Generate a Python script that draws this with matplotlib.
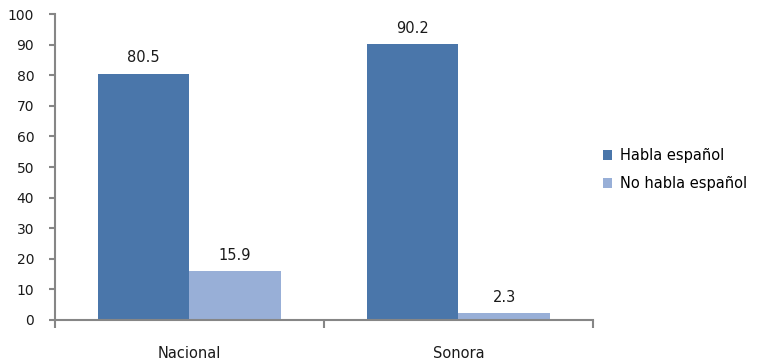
import matplotlib.pyplot as plt
import numpy as np

plt.rcParams['font.family'] = ['DejaVu Sans']

categories = ['Nacional', 'Sonora']
habla = [80.5, 90.2]
no_habla = [15.9, 2.3]
series_names = ['Habla español', 'No habla español']

dark = '#4A76AA'
light = '#98AFD7'
axis_gray = '#868686'

fig = plt.figure(figsize=(7.59, 3.61), dpi=100)
ax = fig.add_axes([0.0725, 0.1136, 0.7085, 0.8475])

centers = np.arange(len(categories)) + 0.5
w = 0.34
b1 = ax.bar(centers - w / 2, habla, w, color=dark, label=series_names[0])
b2 = ax.bar(centers + w / 2, no_habla, w, color=light, label=series_names[1])

for bars, vals in ((b1, habla), (b2, no_habla)):
    for rect, v in zip(bars, vals):
        ax.annotate(f'{v}', (rect.get_x() + rect.get_width() / 2, v),
                    xytext=(0, 6), textcoords='offset points',
                    ha='center', va='bottom', fontsize=10.5, color='#1a1a1a')

ax.set_xlim(0, len(categories))
ax.set_ylim(0, 100)
ax.set_yticks(range(0, 101, 10))
ax.set_xticks(range(0, len(categories) + 1))
ax.set_xticklabels([])
ax.set_xticks(centers, minor=True)
ax.set_xticklabels(categories, minor=True)

ax.tick_params(axis='y', length=4, width=1.5, color=axis_gray, pad=11,
               labelsize=10, labelcolor='#1a1a1a')
ax.tick_params(axis='x', which='major', length=6, width=1.5, color=axis_gray)
ax.tick_params(axis='x', which='minor', length=0, pad=19,
               labelsize=10.5, labelcolor='#1a1a1a')

for side in ('top', 'right'):
    ax.spines[side].set_visible(False)
for side in ('left', 'bottom'):
    ax.spines[side].set_color(axis_gray)
    ax.spines[side].set_linewidth(1.5)

fig.legend(handles=[b1, b2], loc='center left', bbox_to_anchor=(0.777, 0.53),
           frameon=False, fontsize=10.5, handlelength=0.65, handleheight=0.65,
           handletextpad=0.5, labelspacing=0.85)

fig.savefig('out.png', dpi=100)
